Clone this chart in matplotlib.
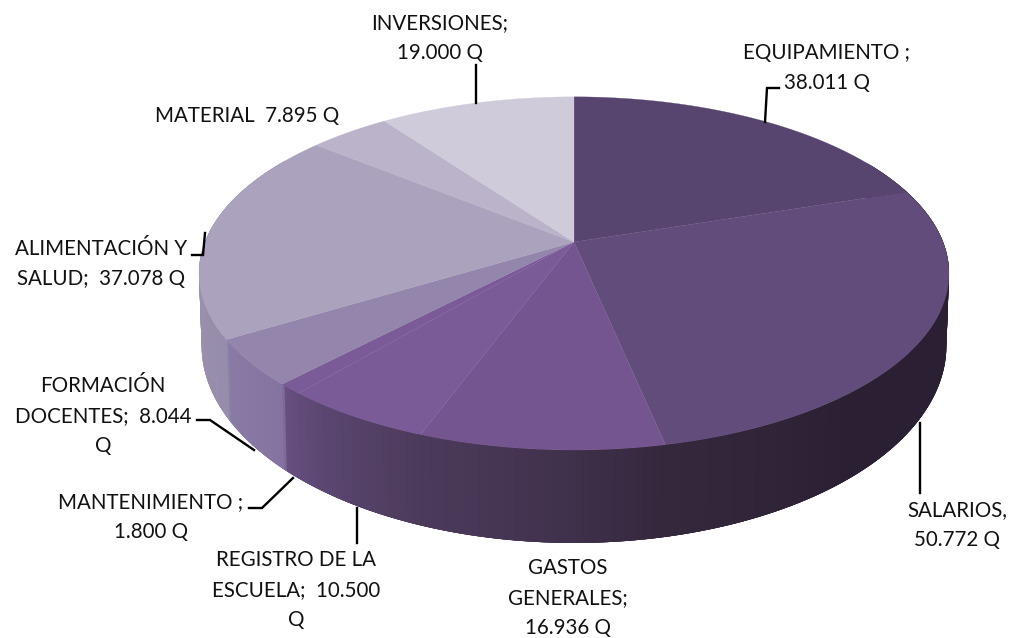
import numpy as np
import matplotlib
matplotlib.use("Agg")
import matplotlib.pyplot as plt
from matplotlib.colors import to_rgb

# budget items, clockwise from 12 o'clock
categories = ["EQUIPAMIENTO", "SALARIOS", "GASTOS GENERALES", "REGISTRO DE LA ESCUELA",
              "MANTENIMIENTO", "FORMACIÓN DOCENTES", "ALIMENTACIÓN Y SALUD", "MATERIAL", "INVERSIONES"]
values = [38011, 50772, 16936, 10500, 1800, 8044, 37078, 7895, 19000]
labels = ["EQUIPAMIENTO ;\n38.011 Q", "SALARIOS,\n50.772 Q", "GASTOS\nGENERALES;\n16.936 Q",
          "REGISTRO DE LA\nESCUELA;  10.500\nQ", "MANTENIMIENTO ;\n1.800 Q",
          "FORMACIÓN\nDOCENTES;  8.044\nQ", "ALIMENTACIÓN Y\nSALUD;  37.078 Q",
          "MATERIAL  7.895 Q", "INVERSIONES;\n19.000 Q"]

top_colors = ["#574570", "#624c7c", "#75558f", "#7b5a98", "#7b5a98",
              "#9485ad", "#aba2bd", "#bbb3c9", "#d0cbda"]
# wall shade by pie angle (degrees clockwise from top)
wall_angles = [60, 100, 140, 168, 185, 200, 215, 222.8, 223.4, 238, 238.6, 255, 300]
wall_colors = ["#2b2033", "#2b2033", "#2b2033", "#34283d", "#433350", "#4c3a5a", "#5a4670",
               "#674f80", "#8473a0", "#8a7ba5", "#968cab", "#9a90ad", "#9a90ad"]

label_pos = [(827, 68), (957, 525), (568, 598), (296, 590), (151, 517),
             (103, 416), (101, 264), (247, 116), (440, 38)]
leaders = [[(765, 122), (767, 88), (779, 88)],
           [(920, 423), (920, 493)],
           None,
           [(357, 508), (357, 543)],
           [(249, 508), (262, 508), (293, 478)],
           [(197, 420), (210, 420), (254, 450)],
           [(192, 255), (203, 255), (205, 233)],
           None,
           [(476, 65), (476, 103)]]

# perspective of the disc, in pixels
APEX_X, APEX_Y = 574, 242
BX, BY, K = 369, 171, 0.178
RIM_CY, FLOOR_CY, FLOOR_SCALE = 273, 345, 1.118


def rim(theta):
    # pie angle (deg clockwise from top) to point on top rim
    t = np.deg2rad(theta)
    x, y = np.sin(t), np.cos(t)
    d = 1 + K * y
    return APEX_X + BX * x / d, APEX_Y - BY * y / d


def floor(theta):
    x, y = rim(theta)
    return APEX_X + (x - APEX_X) * 0.993, FLOOR_CY + (y - RIM_CY) * FLOOR_SCALE


fig = plt.figure(figsize=(10.12, 6.38), dpi=100)
ax = fig.add_axes([0, 0, 1, 1])
ax.set_xlim(0, 1012)
ax.set_ylim(638, 0)
ax.axis("off")

plt.rcParams["font.family"] = ["Lato", "DejaVu Sans"]

edges = np.cumsum([0] + values) / sum(values) * 360

# side wall, strips overlap so no seams show
wall_rgb = np.array([to_rgb(c) for c in wall_colors])
for a in np.arange(60, 300, 0.5):
    th = np.linspace(a, a + 2, 5)
    xt, yt = rim(th)
    xb, yb = floor(th)
    col = [np.interp(a + 0.25, wall_angles, wall_rgb[:, i]) for i in range(3)]
    ax.fill(np.r_[xt, xb[::-1]], np.r_[yt, yb[::-1]], color=col, lw=0, zorder=1)

# top face
for i, c in enumerate(top_colors):
    th = np.linspace(edges[i], edges[i + 1], 60)
    x, y = rim(th)
    ax.fill(np.r_[APEX_X, x], np.r_[APEX_Y, y], color=c, lw=0.2, zorder=2)

for line in leaders:
    if line:
        xs, ys = zip(*line)
        ax.plot(xs, ys, color="black", lw=1.7, solid_joinstyle="miter", zorder=3)

for lab, (lx, ly) in zip(labels, label_pos):
    ax.text(lx, ly, lab, ha="center", va="center", ma="center", fontsize=14.8,
            color="#111111", linespacing=1.6, zorder=4)

fig.savefig("out.png", dpi=100)
